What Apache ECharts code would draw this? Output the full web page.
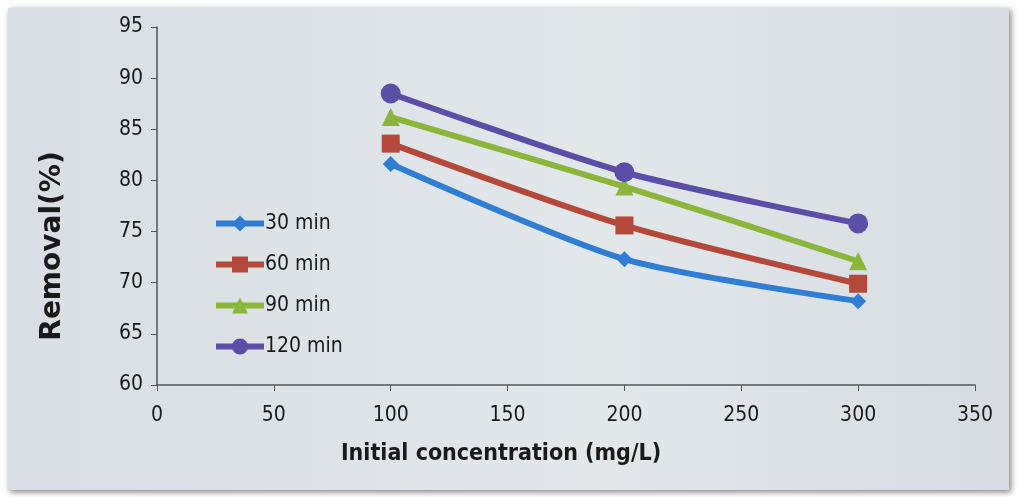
<!DOCTYPE html>
<html>
<head>
<meta charset="utf-8">
<script src="https://cdn.jsdelivr.net/npm/echarts@6/dist/echarts.min.js"></script>
<style>
body { margin: 0; background: #ffffff; }
#wrap { position: absolute; left: 8px; top: 8px; width: 1001px; height: 482px;
        background: linear-gradient(90deg, #d8dee3, #e2e7ea 60%, #d6dce1);
        box-shadow: 2px 2px 6px rgba(0,0,0,0.5); }
#chart { width: 1001px; height: 482px; }
</style>
</head>
<body>
<div id="wrap"><div id="chart"></div></div>
<script>
const concentration = [100, 200, 300]
const seriesNames = ['30 min', '60 min', '90 min', '120 min']
const removal30 = [81.6, 72.3, 68.2]
const removal60 = [83.6, 75.6, 69.9]
const removal90 = [86.2, 79.4, 72.1]
const removal120 = [88.5, 80.8, 75.8]

const narrow = '"Liberation Sans Narrow", "DejaVu Sans Condensed", sans-serif'
const colors = ['#2f7ed3', '#b4493b', '#8cb53b', '#5a4ea6']
const symbols = ['diamond', 'rect', 'triangle', 'circle']
const sizes = [16, 18, 18, 20]
const allData = [removal30, removal60, removal90, removal120]

const myChart = echarts.init(document.getElementById('chart'))
myChart.setOption({
    backgroundColor: 'transparent',
    animation: false,
    grid: { left: 149, right: 34, top: 19, bottom: 105 },
    legend: {
        orient: 'vertical',
        left: 200,
        top: 200,
        itemWidth: 48,
        itemHeight: 20,
        itemGap: 20,
        lineStyle: { width: 6 },
        textStyle: { fontFamily: narrow, fontSize: 21, color: '#1a1a1a', padding: [0, 0, 0, -4] },
        data: seriesNames
    },
    xAxis: {
        type: 'value',
        min: 0,
        max: 350,
        interval: 50,
        name: 'Initial concentration (mg/L)',
        nameLocation: 'middle',
        nameGap: 58,
        nameTextStyle: { fontFamily: narrow, fontSize: 23, fontWeight: 'bold', color: '#1a1a1a', padding: [0, 130, 0, 0] },
        axisLine: { lineStyle: { color: '#555', width: 1.5 } },
        axisTick: { show: true, length: 6, lineStyle: { color: '#555' } },
        axisLabel: { fontFamily: narrow, fontSize: 21, color: '#1a1a1a', margin: 20 },
        splitLine: { show: false }
    },
    yAxis: {
        type: 'value',
        min: 60,
        max: 95,
        interval: 5,
        name: 'Removal(%)',
        nameLocation: 'middle',
        nameGap: 90,
        nameTextStyle: { fontFamily: '"DejaVu Sans", sans-serif', fontSize: 28, fontWeight: 'bold', color: '#1a1a1a', padding: [0, 80, 0, 0] },
        axisLine: { show: true, lineStyle: { color: '#555', width: 1.5 } },
        axisTick: { show: true, length: 6, lineStyle: { color: '#555' } },
        axisLabel: { fontFamily: narrow, fontSize: 21, color: '#1a1a1a', margin: 14 },
        splitLine: { show: false }
    },
    series: seriesNames.map((name, i) => ({
        name: name,
        type: 'line',
        smooth: 0.25,
        data: concentration.map((c, j) => [c, allData[i][j]]),
        symbol: symbols[i],
        symbolSize: sizes[i],
        lineStyle: { color: colors[i], width: 6 },
        itemStyle: { color: colors[i] }
    }))
})
</script>
</body>
</html>
